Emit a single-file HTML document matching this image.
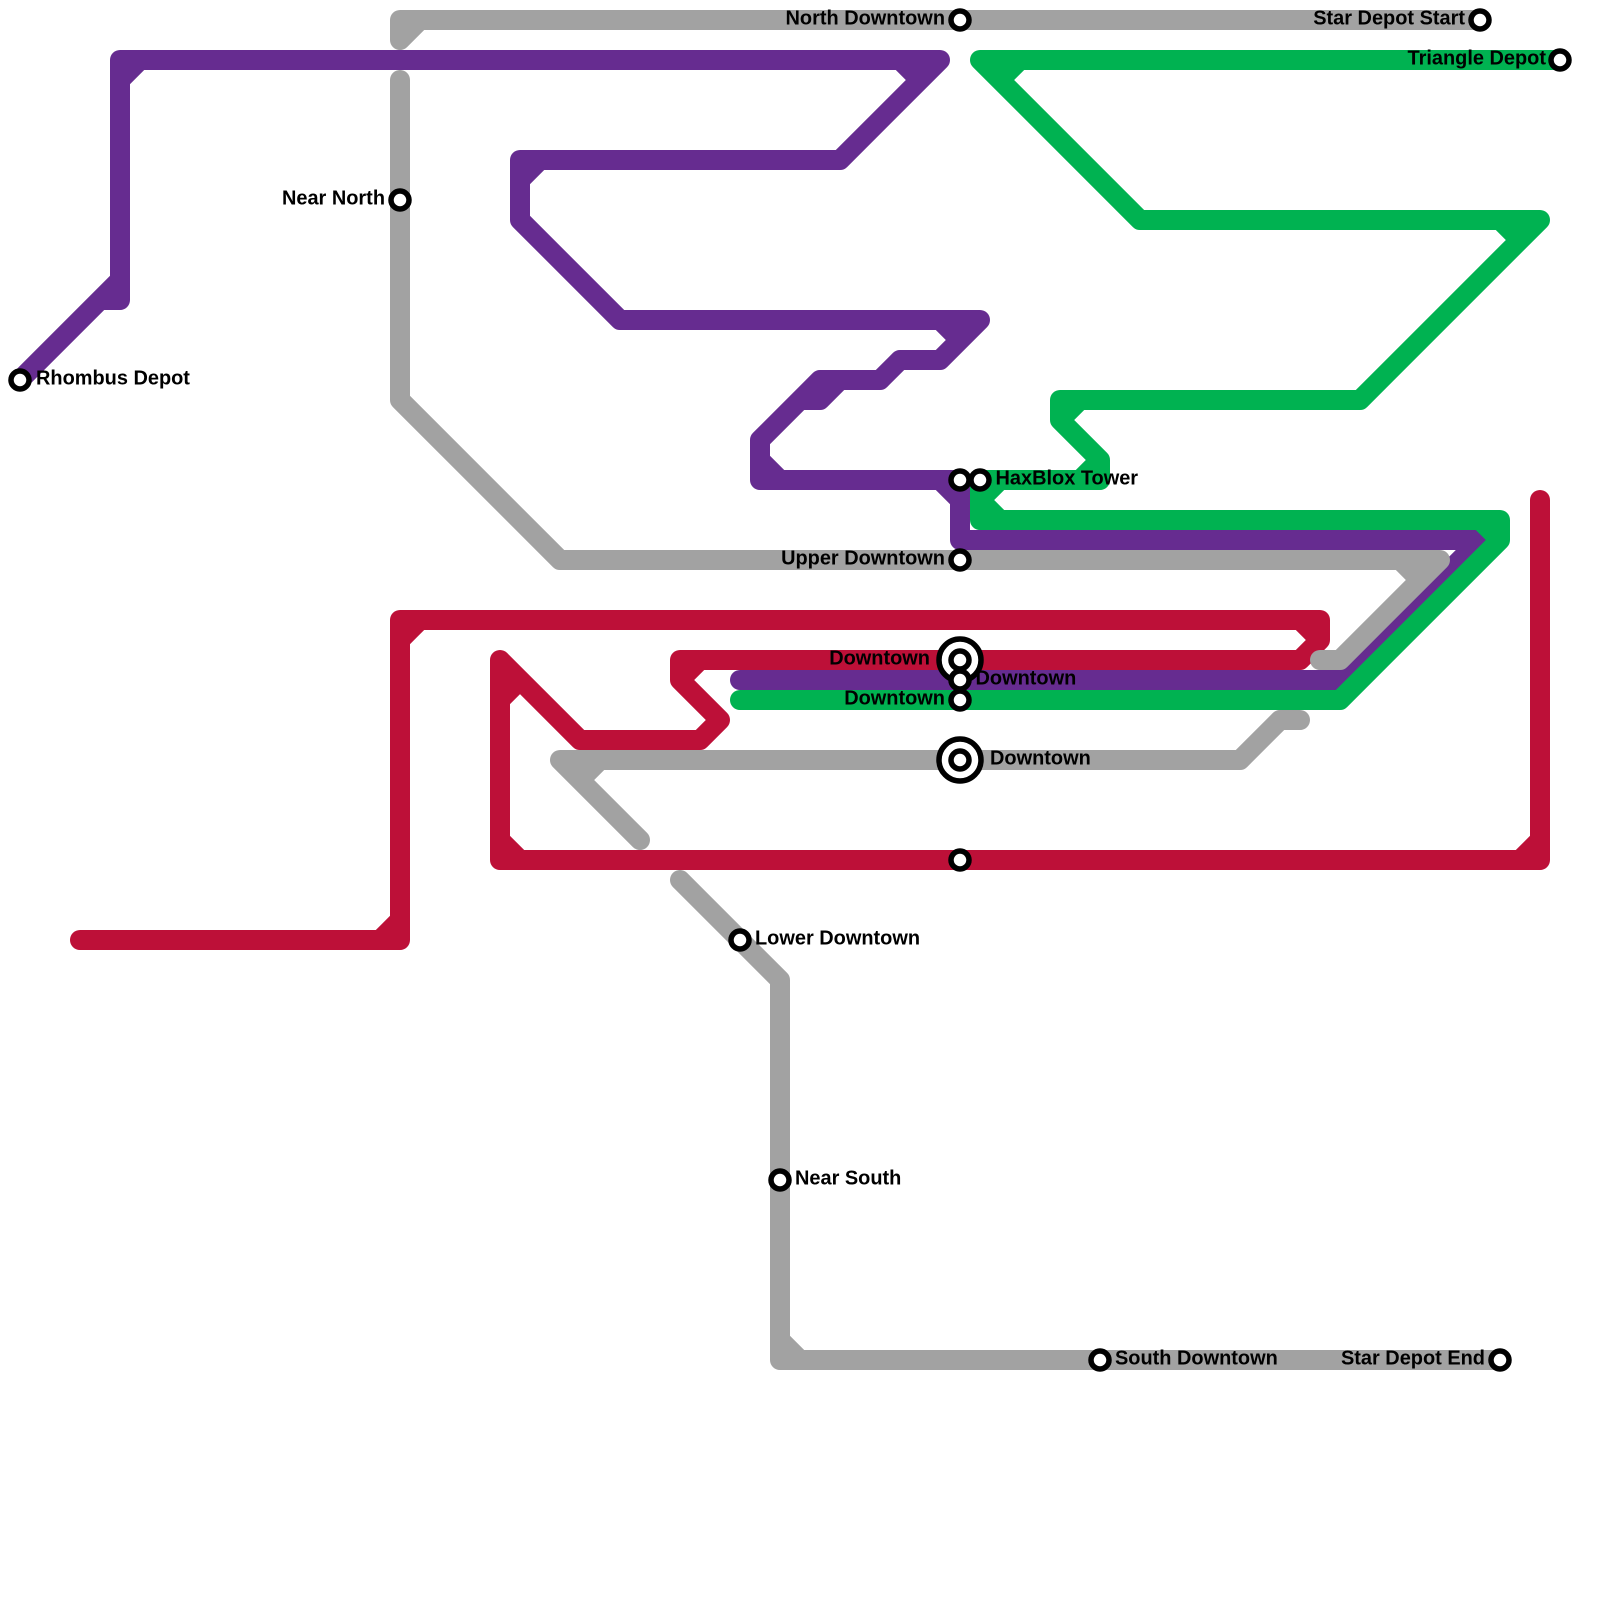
<!DOCTYPE html>
<html>
<head>
<meta charset="utf-8">
<style>
html,body{margin:0;padding:0;background:#fff}
svg{display:block}
.l{fill:none;stroke-width:20;stroke-linecap:round;stroke-linejoin:round}
.s{fill:#fff;stroke:#000;stroke-width:5.5}
text{font-family:"Liberation Sans",Arial,sans-serif;font-weight:bold;font-size:19.95px;fill:#000}
.e{text-anchor:end}
</style>
</head>
<body>
<svg width="1600" height="1600" viewBox="0 0 1600 1600" xmlns="http://www.w3.org/2000/svg">
<rect width="1600" height="1600" fill="#fff"/>
<!-- red -->
<path class="l" stroke="#bd1038" d="M80 940H400V620H1320V640L1300 660H680V680L720 720L700 740H580L500 660V860H1540V500
M380 940L400 920 M400 640L420 620 M1300 620L1320 640 M700 660L680 680 M500 700L520 680 M500 840L520 860 M1520 860L1540 840"/>
<!-- purple -->
<path class="l" stroke="#662c90" d="M20 380L120 280V60H940L840 160H520V220L620 320H980L940 360H900L880 380H820L760 440V480H960V540H1480L1340 680H740
M120 280V300H100 M120 80L140 60 M900 60L920 80 M520 180L540 160 M940 320L960 340 M840 380L820 400H800 M760 460L780 480 M940 480L960 500"/>
<!-- gray -->
<path class="l" stroke="#a2a2a2" d="M400 40V20H1480 M400 40L420 20
M400 80V400L560 560H1440L1340 660H1320 M1400 560L1420 580
M1300 720H1280L1240 760H560L640 840 M600 760L580 780
M680 880L780 980V1360H1500 M780 1340L800 1360"/>
<!-- green -->
<path class="l" stroke="#00b251" d="M1560 60H980L1140 220H1540L1360 400H1060V420L1100 460V480H980V520H1500V540L1340 700H740
M1020 60L1000 80 M1500 220L1520 240 M1080 400L1060 420 M1100 460L1080 480 M1000 480L980 500 M980 500L1000 520 M1480 520L1500 540"/>
<!-- big interchange rings -->
<circle class="s" cx="960" cy="660" r="21"/>
<circle class="s" cx="960" cy="760" r="21"/>
<!-- stations -->
<circle class="s" cx="960" cy="20" r="9"/>
<circle class="s" cx="1480" cy="20" r="9"/>
<circle class="s" cx="1560" cy="60" r="9"/>
<circle class="s" cx="400" cy="200" r="9"/>
<circle class="s" cx="20" cy="380" r="9"/>
<circle class="s" cx="960" cy="480" r="9"/>
<circle class="s" cx="980" cy="480" r="9"/>
<circle class="s" cx="960" cy="560" r="9"/>
<circle class="s" cx="960" cy="660" r="9"/>
<circle class="s" cx="960" cy="680" r="9"/>
<circle class="s" cx="960" cy="700" r="9"/>
<circle class="s" cx="960" cy="760" r="9"/>
<circle class="s" cx="960" cy="860" r="9"/>
<circle class="s" cx="740" cy="940" r="9"/>
<circle class="s" cx="780" cy="1180" r="9"/>
<circle class="s" cx="1100" cy="1360" r="9"/>
<circle class="s" cx="1500" cy="1360" r="9"/>
<!-- labels -->
<text class="e" x="945" y="24.5">North Downtown</text>
<text class="e" x="1465" y="24.5">Star Depot Start</text>
<text class="e" x="1546" y="64.5">Triangle Depot</text>
<text class="e" x="385" y="204.5">Near North</text>
<text x="36" y="384.5">Rhombus Depot</text>
<text x="995.5" y="484.5">HaxBlox Tower</text>
<text class="e" x="945" y="564.5">Upper Downtown</text>
<text class="e" x="930" y="664.5">Downtown</text>
<text x="975.5" y="684.5">Downtown</text>
<text class="e" x="945" y="704.5">Downtown</text>
<text x="990" y="764.5">Downtown</text>
<text x="755" y="944.5">Lower Downtown</text>
<text x="795" y="1184.5">Near South</text>
<text x="1115" y="1364.5">South Downtown</text>
<text class="e" x="1485" y="1364.5">Star Depot End</text>
</svg>
</body>
</html>
